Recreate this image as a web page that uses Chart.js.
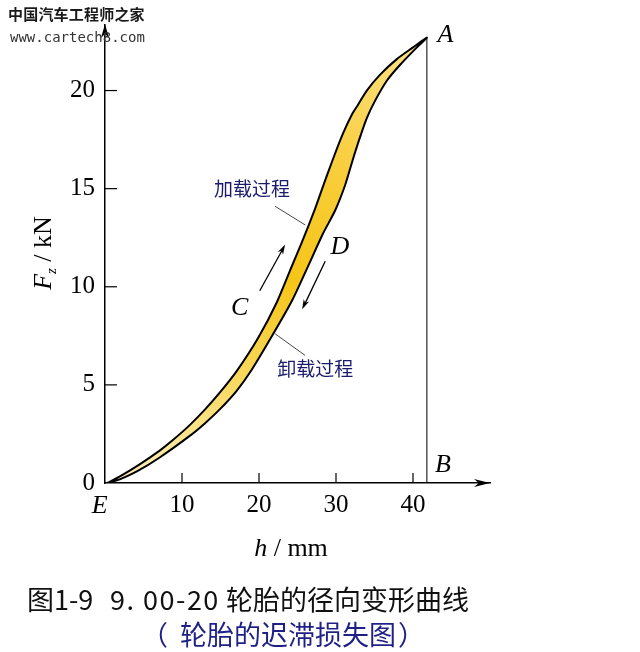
<!DOCTYPE html>
<html>
<head>
<meta charset="utf-8">
<script src="https://cdn.jsdelivr.net/npm/chart.js@4"></script>
<style>
html, body { margin: 0; padding: 0; background: #fff; }
#wrap { position: relative; width: 640px; height: 652px; overflow: hidden; }
#c { position: absolute; left: 0; top: 0; }
.wm1 { position: absolute; left: 8px; top: 3px; font: bold 15px "Noto Sans CJK SC"; color: #1a1a1a; letter-spacing: 0.2px; }
.wm2 { position: absolute; left: 10px; top: 29px; font: 14px "DejaVu Sans Mono"; color: #333; }
.cap1 { position: absolute; top: 579px; font: 27px "Noto Sans CJK SC"; color: #111; white-space: pre; }
.cap2 { position: absolute; top: 614px; font: 27px "Noto Sans CJK SC"; color: #1f1f86; white-space: pre; }
</style>
</head>
<body>
<div id="wrap">
  <canvas id="c" width="640" height="652"></canvas>
  <div class="wm1">中国汽车工程师之家</div>
  <div class="wm2">www.cartech8.com</div>
  <div class="cap1" style="left:27px">图1-9</div>
  <div class="cap1" style="left:110px;letter-spacing:1.5px">9. 00-20</div>
  <div class="cap1" style="left:226px">轮胎的径向变形曲线</div>
  <div class="cap2" style="left:141px">（</div>
  <div class="cap2" style="left:180px">轮胎的迟滞损失图</div>
  <div class="cap2" style="left:398px">）</div>
</div>
<script>
// loading curve (upper edge), h in mm, Fz in kN
const loadH = [0.3, 2.0, 4.5, 7.1, 8.7, 11.0, 13.0, 14.9, 17.1, 19.9, 22.3, 24.0, 25.6, 27.3, 28.3, 29.6, 30.9, 32.1, 32.9, 34.0, 35.7, 37.9, 40.0, 41.8];
const loadF = [0.0, 0.35, 0.95, 1.65, 2.15, 2.95, 3.75, 4.6, 5.7, 7.4, 9.2, 10.8, 12.3, 14.0, 15.1, 16.5, 17.8, 18.8, 19.3, 20.0, 20.8, 21.6, 22.2, 22.7];
// unloading curve (lower edge), from E up to A
const unloadH = [0.3, 2.0, 4.2, 7.1, 11.0, 13.0, 14.9, 17.1, 19.1, 21.7, 24.3, 26.2, 28.3, 29.9, 31.2, 32.2, 33.1, 34.0, 35.1, 36.6, 38.3, 40.5, 41.8];
const unloadF = [0.0, 0.2, 0.6, 1.3, 2.4, 3.05, 3.75, 4.7, 5.8, 7.5, 9.3, 10.9, 12.7, 13.9, 15.2, 16.5, 17.6, 18.6, 19.5, 20.5, 21.3, 22.2, 22.7];

const xTicks = [10, 20, 30, 40];
const yTicks = [0, 5, 10, 15, 20];

// closed band: up along loading, back down along unloading
const band = [];
loadH.forEach((h, i) => band.push({x: h, y: loadF[i]}));
for (let i = unloadH.length - 2; i >= 0; i--) band.push({x: unloadH[i], y: unloadF[i]});

const serif = '"Liberation Serif", "Times New Roman", serif';
const cjk = '"Noto Sans CJK SC", sans-serif';

function bandFill(ctx) {
  const ch = ctx.chart;
  if (!ch.chartArea) return '#f7c82a';
  const x = ch.scales.x, y = ch.scales.y;
  const n = loadH.length - 1;
  const g = ch.ctx.createLinearGradient(
    x.getPixelForValue(loadH[0]), y.getPixelForValue(loadF[0]),
    x.getPixelForValue(loadH[n]), y.getPixelForValue(loadF[n]));
  g.addColorStop(0, '#fdf1c4');
  g.addColorStop(0.25, '#f9dc6e');
  g.addColorStop(0.5, '#f6c518');
  g.addColorStop(0.7, '#f8cd38');
  g.addColorStop(1, '#fde38e');
  return g;
}

function arrowHead(ctx, tx, ty, fx, fy, len, half) {
  const dx = tx - fx, dy = ty - fy, d = Math.hypot(dx, dy);
  const ux = dx / d, uy = dy / d;
  const bx = tx - ux * len, by = ty - uy * len;
  ctx.beginPath();
  ctx.moveTo(tx, ty);
  ctx.lineTo(bx - uy * half, by + ux * half);
  ctx.lineTo(tx - ux * len * 0.7, ty - uy * len * 0.7);
  ctx.lineTo(bx + uy * half, by - ux * half);
  ctx.closePath();
  ctx.fill();
}

const decor = {
  id: 'decor',
  afterDatasetsDraw(chart) {
    const {ctx, chartArea: a, scales: {x, y}} = chart;
    const px = v => x.getPixelForValue(v), py = v => y.getPixelForValue(v);
    const seg = (x1, y1, x2, y2) => { ctx.beginPath(); ctx.moveTo(x1, y1); ctx.lineTo(x2, y2); ctx.stroke(); };
    ctx.save();
    ctx.strokeStyle = '#000';
    ctx.fillStyle = '#000';
    ctx.lineWidth = 1.2;

    // inward tick marks
    yTicks.forEach(v => { if (v > 0) seg(a.left, py(v), a.left + 12, py(v)); });
    xTicks.forEach(v => seg(px(v), a.bottom, px(v), a.bottom - 10));

    // axis arrows
    arrowHead(ctx, a.left, a.top - 1, a.left, a.top + 20, 14, 4);
    arrowHead(ctx, a.right, a.bottom, a.right - 20, a.bottom, 16, 4);

    // A - B line
    const hA = loadH[loadH.length - 1], fA = loadF[loadF.length - 1];
    ctx.lineWidth = 1;
    seg(px(hA), py(fA), px(hA), a.bottom);

    // point letters
    ctx.font = 'italic 26px ' + serif;
    ctx.textAlign = 'center';
    ctx.textBaseline = 'middle';
    ctx.fillText('A', px(44.2), py(22.8));
    ctx.fillText('B', px(43.9), py(0.9));
    ctx.fillText('C', px(17.5), py(8.9));
    ctx.fillText('D', px(30.5), py(12.0));
    ctx.fillText('E', px(-0.7), py(-1.2));

    // direction arrows
    ctx.lineWidth = 1.3;
    seg(px(20.1), py(9.8), px(23.2), py(12.0));
    arrowHead(ctx, px(23.4), py(12.15), px(20.1), py(9.8), 10, 3);
    seg(px(28.6), py(11.3), px(25.8), py(9.0));
    arrowHead(ctx, px(25.6), py(8.85), px(28.6), py(11.3), 10, 3);

    // leader lines
    ctx.lineWidth = 0.9;
    ctx.strokeStyle = '#333';
    seg(px(22.1), py(14.1), px(26.0), py(13.15));
    seg(px(22.1), py(7.6), px(26.0), py(6.5));

    ctx.fillStyle = '#1b1b6e';
    ctx.font = '19px ' + cjk;
    ctx.fillText('加载过程', px(19.1), py(15.0));
    ctx.fillText('卸载过程', px(27.3), py(5.8));

    // axis titles
    ctx.fillStyle = '#000';
    ctx.textAlign = 'left';
    ctx.textBaseline = 'alphabetic';
    ctx.font = 'italic 26px ' + serif;
    const wh = ctx.measureText('h').width;
    ctx.font = '26px ' + serif;
    const wmm = ctx.measureText(' / mm').width;
    let sx = 291 - (wh + wmm) / 2;
    ctx.font = 'italic 26px ' + serif;
    ctx.fillText('h', sx, 556);
    ctx.font = '26px ' + serif;
    ctx.fillText(' / mm', sx + wh, 556);

    ctx.translate(51, 253);
    ctx.rotate(-Math.PI / 2);
    ctx.font = 'italic 26px ' + serif;
    const wF = ctx.measureText('F').width;
    ctx.font = 'italic 15px ' + serif;
    const wz = ctx.measureText('z').width;
    ctx.font = '26px ' + serif;
    const wkn = ctx.measureText(' / kN').width;
    sx = -(wF + wz + wkn) / 2;
    ctx.font = 'italic 26px ' + serif;
    ctx.fillText('F', sx, 0);
    ctx.font = 'italic 15px ' + serif;
    ctx.fillText('z', sx + wF, 5);
    ctx.font = '26px ' + serif;
    ctx.fillText(' / kN', sx + wF + wz, 0);
    ctx.restore();
  }
};

new Chart(document.getElementById('c'), {
  type: 'line',
  data: {
    datasets: [{
      data: band,
      fill: 'shape',
      backgroundColor: bandFill,
      borderColor: '#000',
      borderWidth: 2,
      tension: 0.25,
      pointRadius: 0
    }]
  },
  options: {
    responsive: false,
    animation: false,
    layout: { padding: { top: 22, right: 150, left: 0, bottom: 0 } },
    plugins: { legend: { display: false }, tooltip: { enabled: false } },
    scales: {
      x: {
        type: 'linear',
        min: 0,
        max: 50,
        afterBuildTicks: s => { s.ticks = xTicks.map(v => ({value: v})); },
        afterFit: s => { s.height = 169; },
        grid: { display: false, drawTicks: false },
        border: { display: true, color: '#000', width: 1.5 },
        ticks: { padding: 7, color: '#000', font: { family: serif, size: 25 } }
      },
      y: {
        type: 'linear',
        min: 0,
        max: 23.34,
        afterBuildTicks: s => { s.ticks = yTicks.map(v => ({value: v})); },
        afterFit: s => { s.width = 105; },
        grid: { display: false, drawTicks: false },
        border: { display: true, color: '#000', width: 1.5 },
        ticks: { padding: 10, color: '#000', font: { family: serif, size: 25 } }
      }
    }
  },
  plugins: [decor]
});
</script>
</body>
</html>
